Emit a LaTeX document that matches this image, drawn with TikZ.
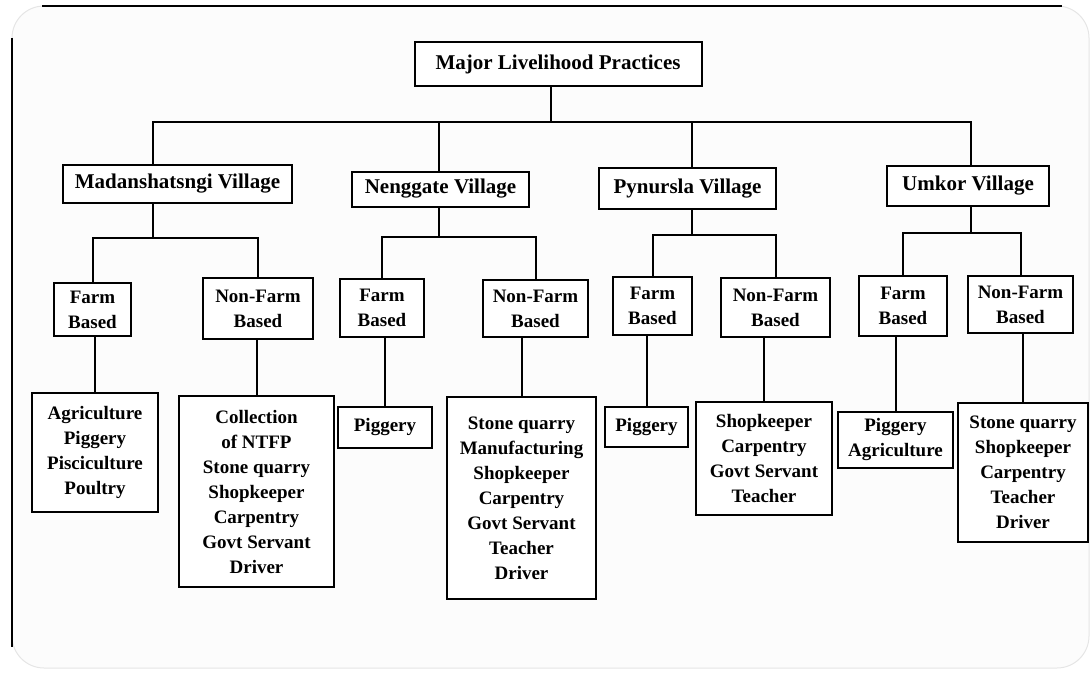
\documentclass[tikz,border=0pt]{standalone}
\usepackage{fontspec}
\setmainfont{Liberation Serif}
\usetikzlibrary{positioning}

\begin{document}
\begin{tikzpicture}[x=1pt, y=-1pt, line width=2pt,
  box/.style={draw, fill=white, align=center, inner sep=1pt, font=\bfseries\fontsize{19}{25}\selectfont},
  village/.style={box, font=\bfseries\fontsize{21}{25}\selectfont}]
  \useasboundingbox (0,0) rectangle (1092,674);
  \draw[gray!20, line width=1pt, rounded corners=32pt, fill=gray!2] (12,6) rectangle (1089,668);
  \draw[line width=2.8pt] (12,38) -- (12,647);
  \draw[line width=2.8pt] (42,6) -- (1062,6);

  \node[village, minimum width=287pt, minimum height=44pt] (major) at (558,64) {Major Livelihood Practices};

  \node[village, minimum width=229pt, minimum height=38pt] (madan) at (177.5,184) {Madanshatsngi Village};
  \node[village, minimum width=177pt, minimum height=35pt] (neng) at (440.5,189) {Nenggate Village};
  \node[village, minimum width=177pt, minimum height=41pt] (pyn) at (687.5,188.5) {Pynursla Village};
  \node[village, minimum width=162pt, minimum height=40pt] (umk) at (968,186) {Umkor Village};

  \node[box, minimum width=77pt, minimum height=53pt] (mfarm) at (92.5,309.5) {Farm\\Based};
  \node[box, minimum width=110pt, minimum height=61pt] (mnon) at (258,308.5) {Non-Farm\\Based};
  \node[box, minimum width=84pt, minimum height=58pt] (nfarm) at (382,308) {Farm\\Based};
  \node[box, minimum width=105pt, minimum height=57pt] (nnon) at (535.5,308.5) {Non-Farm\\Based};
  \node[box, minimum width=79pt, minimum height=58pt] (pfarm) at (652.5,306) {Farm\\Based};
  \node[box, minimum width=109pt, minimum height=59pt] (pnon) at (775.5,307.5) {Non-Farm\\Based};
  \node[box, minimum width=88pt, minimum height=60pt] (ufarm) at (903,306) {Farm\\Based};
  \node[box, minimum width=105pt, minimum height=57pt] (unon) at (1020.5,304.5) {Non-Farm\\Based};

  \node[box, minimum width=126pt, minimum height=119pt] (mleafA) at (95,452.5)
    {Agriculture\\Piggery\\Pisciculture\\Poultry};
  \node[box, minimum width=155pt, minimum height=191pt] (mleafB) at (256.5,491.5)
    {Collection\\of NTFP\\Stone quarry\\Shopkeeper\\Carpentry\\Govt Servant\\Driver};
  \node[box, minimum width=94pt, minimum height=41pt] (nleafA) at (385,427.5) {Piggery};
  \node[box, minimum width=149pt, minimum height=202pt] (nleafB) at (521.5,498)
    {Stone quarry\\Manufacturing\\Shopkeeper\\Carpentry\\Govt Servant\\Teacher\\Driver};
  \node[box, minimum width=83pt, minimum height=40pt] (pleafA) at (646.5,427) {Piggery};
  \node[box, minimum width=136pt, minimum height=113pt] (pleafB) at (764,458.5)
    {Shopkeeper\\Carpentry\\Govt Servant\\Teacher};
  \node[box, minimum width=115pt, minimum height=56pt] (uleafA) at (895.5,440)
    {Piggery\\Agriculture};
  \node[box, minimum width=130pt, minimum height=139pt] (uleafB) at (1023,472.5)
    {Stone quarry\\Shopkeeper\\Carpentry\\Teacher\\Driver};

  \coordinate (top) at (551,122);
  \coordinate (mj) at (153,238);
  \coordinate (nj) at (439,237);
  \coordinate (pj) at (692,235);
  \coordinate (uj) at (971,233);

  \draw (major.south -| top) -- (top);
  \draw (madan.north -| mj) |- (top) -| (umk.north -| uj);
  \draw (neng.north -| nj) -- (nj |- top);
  \draw (pyn.north -| pj) -- (pj |- top);

  \draw (madan.south -| mj) -- (mj);
  \draw (neng.south -| nj) -- (nj);
  \draw (pyn.south -| pj) -- (pj);
  \draw (umk.south -| uj) -- (uj);

  \draw (mfarm) |- (mj) -| (mnon);
  \draw (nfarm) |- (nj) -| (nnon);
  \draw (pfarm) |- (pj) -| (pnon);
  \draw (ufarm) |- (uj) -| (unon);

  \draw (mfarm.south -| mleafA) -- (mleafA);
  \draw (mnon.south -| mleafB) -- (mleafB);
  \draw (nfarm.south -| nleafA) -- (nleafA);
  \draw (nnon.south -| nleafB) -- (nleafB);
  \draw (pfarm.south -| pleafA) -- (pleafA);
  \draw (pnon.south -| pleafB) -- (pleafB);
  \draw (ufarm.south -| uleafA) -- (uleafA);
  \draw (unon.south -| uleafB) -- (uleafB);
\end{tikzpicture}
\end{document}
